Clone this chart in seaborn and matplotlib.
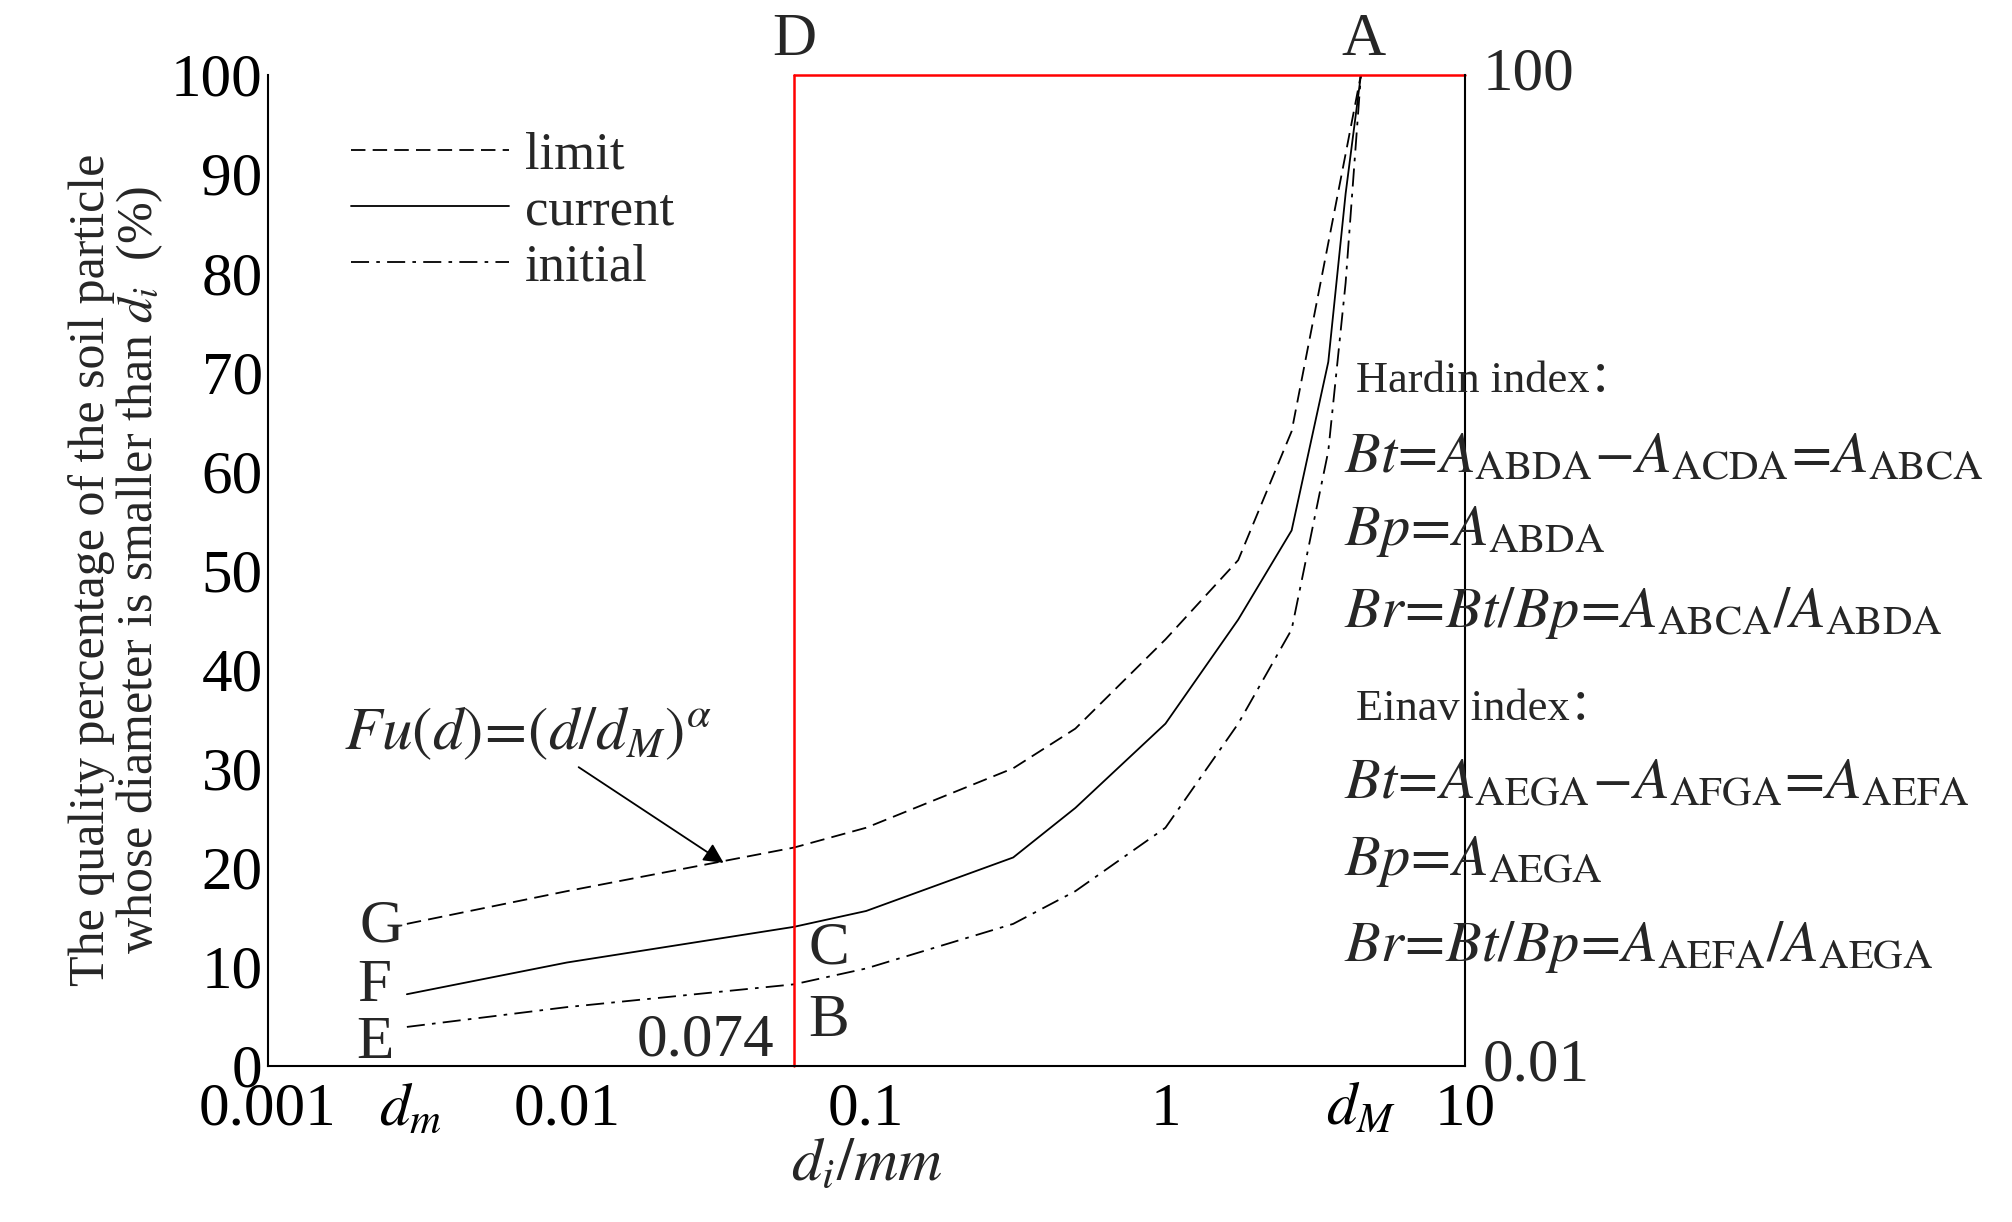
import numpy as np
import pandas as pd
import matplotlib
matplotlib.use("Agg")
import matplotlib.pyplot as plt
import seaborn as sns
from matplotlib.lines import Line2D

sns.set_theme(style="white")
plt.rcParams['font.family'] = ['Liberation Serif', 'DejaVu Serif']
plt.rcParams['mathtext.fontset'] = 'stix'

d_vals = [0.00292, 0.01, 0.0574, 0.1, 0.31, 0.5, 1.0, 1.75, 2.64, 3.5, 4.0, 4.5]
limit = [14.3, 17.6, 22.0, 24.0, 30.0, 34.0, 43.0, 51.0, 64.0, 83.0, 92.0, 100.0]
current = [7.2, 10.4, 14.0, 15.6, 21.0, 26.0, 34.5, 45.0, 54.0, 71.0, 88.0, 100.0]
initial = [3.9, 5.9, 8.2, 9.8, 14.3, 17.6, 24.0, 34.5, 44.0, 62.0, 79.0, 100.0]
d_B = 0.0574
d_m, d_M = 0.003, 4.5

df = pd.DataFrame({"d": d_vals * 3,
                   "F": limit + current + initial,
                   "series": ["limit"] * 12 + ["current"] * 12 + ["initial"] * 12})

fig = plt.figure(figsize=(20.12, 12.22), dpi=100)
ax = fig.add_axes([0.133, 0.128, 0.595, 0.811])
styles = {"limit": (0, (8, 4)), "current": "-", "initial": (0, (10, 4, 2, 4))}
for name, ls in styles.items():
    sub = df[df.series == name]
    sns.lineplot(data=sub, x="d", y="F", ax=ax, color="black", lw=1.3,
                 linestyle=ls, legend=False)
ax.set_xscale("log")
ax.set_xlim(0.001, 10)
ax.set_ylim(0, 100)

ax.plot([d_B, d_B], [0, 100], color="red", lw=1.8, clip_on=False)
ax.plot([d_B, 10], [100, 100], color="red", lw=1.8, clip_on=False)

fs = 44
ax.set_xticks([0.001, d_m, 0.01, 0.1, 1, d_M, 10])
ax.set_xticklabels(["0.001", "$d_m$", "0.01", "0.1", "1", "$d_M$", "10"], fontsize=fs)
ax.minorticks_off()
ax.set_yticks(range(0, 101, 10))
ax.set_yticklabels([str(v) for v in range(0, 101, 10)], fontsize=fs)
ax.tick_params(direction="in", length=8, width=1.5, colors="black")
ax.tick_params(axis="x", pad=12)
for s in ["left", "bottom", "right"]:
    ax.spines[s].set_color("black"); ax.spines[s].set_linewidth(1.5)
ax.spines["top"].set_visible(False)
ax.set_xlabel("$d_i/mm$", fontsize=fs, labelpad=0)
ax.set_ylabel("The quality percentage of the soil particle\nwhose diameter is smaller than $d_i$  (%)",
              fontsize=36, linespacing=1.0)

ax.text(1.015, 1.0, "100", transform=ax.transAxes, fontsize=fs, va="center")
ax.text(1.015, 0.0, "0.01", transform=ax.transAxes, fontsize=fs, va="center")

handles = [Line2D([], [], color="black", lw=1.3, linestyle=styles[k]) for k in ["limit", "current", "initial"]]
ax.legend(handles, ["limit", "current", "initial"], loc="upper left", bbox_to_anchor=(0.03, 0.99),
          frameon=False, fontsize=38, handlelength=3.0, labelspacing=0.15, handletextpad=0.3)

tk = dict(fontsize=fs, ha="center", va="center")
ax.text(0.0024, 14, "G", **tk)
ax.text(0.00228, 8.0, "F", **tk)
ax.text(0.00228, 2.3, "E", **tk)
ax.text(0.075, 11.8, "C", **tk)
ax.text(0.075, 4.5, "B", **tk)
ax.text(0.029, 2.5, "0.074", **tk)
ax.text(d_B, 103.5, "D", clip_on=False, **tk)
ax.text(4.6, 103.5, "A", clip_on=False, **tk)
ax.annotate(r"$Fu(d)\!=\!(d/d_M)^{\alpha}$", xy=(0.034, 20.3), xytext=(0.0018, 33.5),
            fontsize=fs, ha="left", va="center",
            arrowprops=dict(arrowstyle="-|>", color="black", lw=1.3, mutation_scale=30))

rt = [(0.688, "Hardin index："),
      (0.625, r"$Bt\!=\!A_{\rm ABDA}\!-\!A_{\rm ACDA}\!=\!A_{\rm ABCA}$"),
      (0.565, r"$Bp\!=\!A_{\rm ABDA}$"),
      (0.498, r"$Br\!=\!Bt/Bp\!=\!A_{\rm ABCA}/A_{\rm ABDA}$"),
      (0.42, "Einav index："),
      (0.358, r"$Bt\!=\!A_{\rm AEGA}\!-\!A_{\rm AFGA}\!=\!A_{\rm AEFA}$"),
      (0.295, r"$Bp\!=\!A_{\rm AEGA}$"),
      (0.225, r"$Br\!=\!Bt/Bp\!=\!A_{\rm AEFA}/A_{\rm AEGA}$")]
for y, t in rt:
    small = "index" in t
    fig.text(0.674 if small else 0.668, y, t, fontsize=32 if small else 42, va="center",
             family=['Liberation Serif', 'Noto Sans CJK SC'])

fig.savefig("out.png", dpi=100, facecolor="white")
